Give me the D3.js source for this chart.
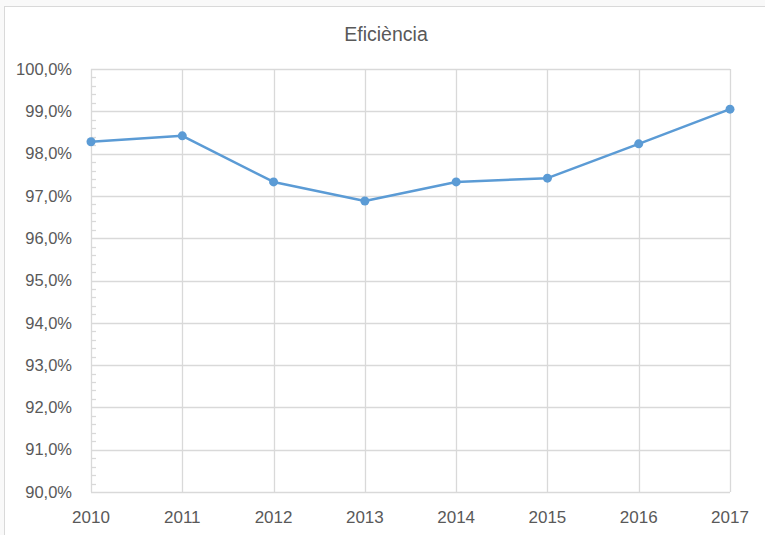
<!DOCTYPE html>
<html>
<head>
<meta charset="UTF-8">
<script src="https://d3js.org/d3.v7.min.js"></script>
<style>
  body { margin: 0; background: #ffffff; }
  svg { display: block; font-family: "Liberation Sans", Arial, sans-serif; }
</style>
</head>
<body>
<svg id="chart"></svg>
<script>
// data
var years = ["2010", "2011", "2012", "2013", "2014", "2015", "2016", "2017"];
var efficiency = [98.28, 98.42, 97.33, 96.88, 97.33, 97.42, 98.23, 99.05];
var yTicks = [90, 91, 92, 93, 94, 95, 96, 97, 98, 99, 100];
var title = "Eficiència";

var width = 765,
    height = 535,
    margin = {top: 69, right: 35, bottom: 43, left: 91};

var svg = d3.select("#chart")
    .attr("width", width)
    .attr("height", height);

// chart frame (only top and left visible in the screenshot)
svg.append("rect")
    .attr("width", width).attr("height", height)
    .attr("fill", "#f9f9f9");
svg.append("rect")
    .attr("x", 4.5).attr("y", 6.5)
    .attr("width", width + 10).attr("height", height + 10)
    .attr("fill", "#ffffff")
    .attr("stroke", "#d9d9d9");

var x = d3.scalePoint()
    .domain(years)
    .range([margin.left, width - margin.right]);

var y = d3.scaleLinear()
    .domain([90, 100])
    .range([height - margin.bottom, margin.top]);

var fmt = function(d) { return d.toFixed(1).replace(".", ",") + "%"; };

// horizontal grid
svg.append("g")
    .selectAll("line")
    .data(yTicks)
    .enter().append("line")
    .attr("x1", margin.left).attr("x2", width - margin.right)
    .attr("y1", d => Math.round(y(d)) + 0.5)
    .attr("y2", d => Math.round(y(d)) + 0.5)
    .attr("stroke", "#d9d9d9")
    .attr("stroke-width", 1.3);

// vertical grid
svg.append("g")
    .selectAll("line")
    .data(years)
    .enter().append("line")
    .attr("x1", d => Math.round(x(d)) + 0.5)
    .attr("x2", d => Math.round(x(d)) + 0.5)
    .attr("y1", margin.top).attr("y2", height - margin.bottom)
    .attr("stroke", "#d9d9d9")
    .attr("stroke-width", 1.3);

// minor ticks inside, every 0.2%
var minor = d3.range(90, 100.001, 0.2).filter(d => Math.abs(d - Math.round(d)) > 0.01);
svg.append("g")
    .selectAll("line")
    .data(minor)
    .enter().append("line")
    .attr("x1", margin.left).attr("x2", margin.left + 5)
    .attr("y1", d => Math.round(y(d)) + 0.5)
    .attr("y2", d => Math.round(y(d)) + 0.5)
    .attr("stroke", "#d9d9d9")
    .attr("stroke-width", 1.3);

// y labels
svg.append("g")
    .selectAll("text")
    .data(yTicks)
    .enter().append("text")
    .attr("x", 72)
    .attr("y", d => y(d))
    .attr("dy", "0.35em")
    .attr("text-anchor", "end")
    .attr("fill", "#595959")
    .style("font-size", "16.5px")
    .text(fmt);

// x labels
svg.append("g")
    .selectAll("text")
    .data(years)
    .enter().append("text")
    .attr("x", d => x(d))
    .attr("y", 523)
    .attr("text-anchor", "middle")
    .attr("fill", "#595959")
    .style("font-size", "17px")
    .text(d => d);

// title
svg.append("text")
    .attr("x", 386)
    .attr("y", 41)
    .attr("text-anchor", "middle")
    .attr("fill", "#595959")
    .style("font-size", "19.5px")
    .text(title);

// line + markers
var line = d3.line()
    .x((d, i) => x(years[i]))
    .y(d => y(d));

svg.append("path")
    .datum(efficiency)
    .attr("d", line)
    .attr("fill", "none")
    .attr("stroke", "#5b9bd5")
    .attr("stroke-width", 2.5)
    .attr("stroke-linejoin", "round");

svg.append("g")
    .selectAll("circle")
    .data(efficiency)
    .enter().append("circle")
    .attr("cx", (d, i) => x(years[i]))
    .attr("cy", d => y(d))
    .attr("r", 4.5)
    .attr("fill", "#5b9bd5");
</script>
</body>
</html>
